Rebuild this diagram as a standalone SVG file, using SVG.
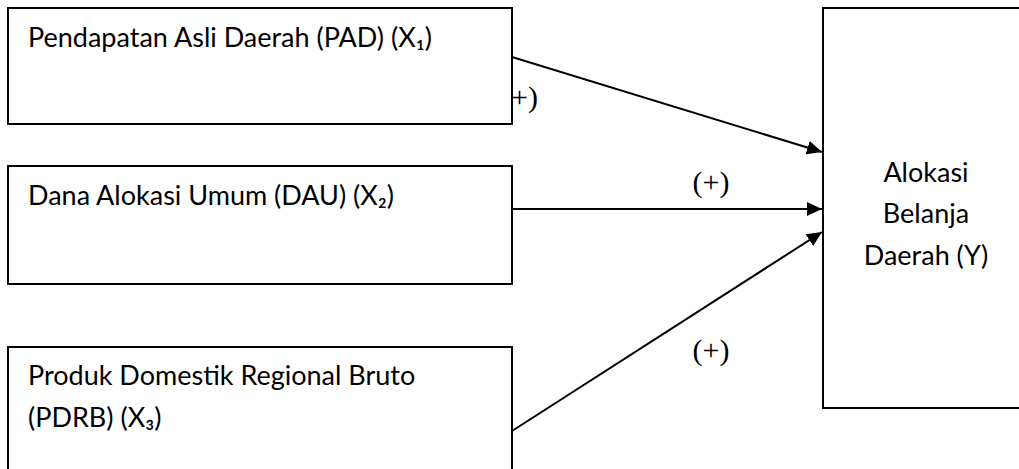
<svg xmlns="http://www.w3.org/2000/svg" width="1019" height="469" viewBox="0 0 1019 469">
<style>
.box{fill:#fff;stroke:#000;stroke-width:2}
.t{font-family:Lato,"Open Sans","Liberation Sans",sans-serif;font-size:27px;fill:#000}
.c{text-anchor:middle}
.lbl{font-family:"Liberation Serif","Times New Roman",serif;font-size:30px;fill:#000}
.ln{stroke:#000;stroke-width:2;fill:none}
</style>
<defs>
<marker id="ah" markerUnits="userSpaceOnUse" markerWidth="16" markerHeight="16" viewBox="0 0 16 16" refX="15" refY="8" orient="auto">
<path d="M0,1 L15,8 L0,15 Z" fill="#000"/>
</marker>
</defs>
<rect width="1019" height="469" fill="#fff"/>
<g id="connectors">
<line class="ln" x1="512" y1="57" x2="822" y2="152" marker-end="url(#ah)"/>
<line class="ln" x1="512" y1="209" x2="822" y2="209" marker-end="url(#ah)"/>
<line class="ln" x1="512" y1="431" x2="822" y2="232" marker-end="url(#ah)"/>
</g>
<g id="node-pad">
<rect class="box" x="8" y="8" width="504" height="116"/>
<text class="t" x="28" y="47">Pendapatan Asli Daerah (PAD) (X₁)</text>
</g>
<g id="node-dau">
<rect class="box" x="8" y="166" width="504" height="118"/>
<text class="t" x="28" y="205">Dana Alokasi Umum (DAU) (X₂)</text>
</g>
<g id="node-pdrb">
<rect class="box" x="8" y="347" width="504" height="140"/>
<text class="t" x="28" y="385">Produk Domestik Regional Bruto</text>
<text class="t" x="28" y="427">(PDRB) (X₃)</text>
</g>
<g id="node-y">
<rect class="box" x="823" y="8" width="210" height="400"/>
<text class="t c" x="926" y="182">Alokasi</text>
<text class="t c" x="926" y="223">Belanja</text>
<text class="t c" x="926" y="265">Daerah (Y)</text>
</g>
<g id="labels">
<text class="lbl" x="511" y="107">+)</text>
<text class="lbl c" x="711" y="192">(+)</text>
<text class="lbl c" x="711" y="360">(+)</text>
</g>
</svg>
